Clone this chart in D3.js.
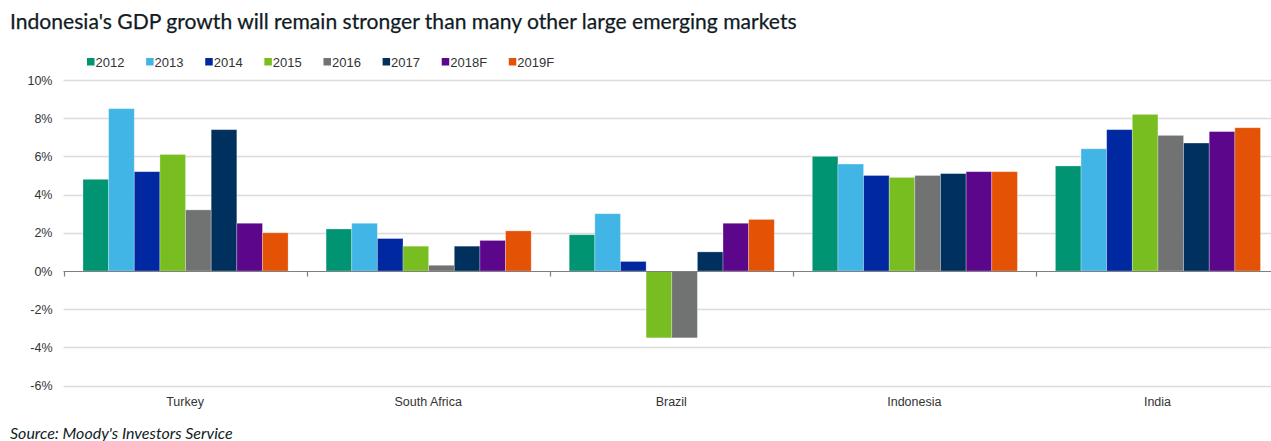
<!DOCTYPE html>
<html>
<head>
<meta charset="utf-8">
<script src="https://cdn.jsdelivr.net/npm/d3@7"></script>
<style>
  html, body { margin: 0; padding: 0; background: #fff; }
  svg { display: block; }
</style>
</head>
<body>
<svg id="chart" width="1271" height="441"></svg>
<script>
// Real GDP growth (%) by country and year; 2018F and 2019F are forecasts
const countries = ["Turkey", "South Africa", "Brazil", "Indonesia", "India"];
const years = ["2012", "2013", "2014", "2015", "2016", "2017", "2018F", "2019F"];
const yearColors = ["#009473", "#41b6e6", "#0028a0", "#78be20", "#707372", "#00305e", "#5c068c", "#e35205"];

const turkey      = [4.8, 8.5, 5.2, 6.1, 3.2, 7.4, 2.5, 2.0];
const southAfrica = [2.2, 2.5, 1.7, 1.3, 0.3, 1.3, 1.6, 2.1];
const brazil      = [1.9, 3.0, 0.5, -3.5, -3.5, 1.0, 2.5, 2.7];
const indonesia   = [6.0, 5.6, 5.0, 4.9, 5.0, 5.1, 5.2, 5.2];
const india       = [5.5, 6.4, 7.4, 8.2, 7.1, 6.7, 7.3, 7.5];

const yTicks = [-6, -4, -2, 0, 2, 4, 6, 8, 10];

const seriesByCountry = [turkey, southAfrica, brazil, indonesia, india];
const rows = countries.map((c, i) => ({
  country: c,
  values: years.map((y, j) => ({ year: y, value: seriesByCountry[i][j] }))
}));

const svg = d3.select("#chart");
const W = 1271;

const plot = { left: 63.5, right: 1279, top: 80, bottom: 385.6 };

const x0 = d3.scaleBand()
  .domain(countries)
  .range([plot.left, plot.right])
  .paddingInner(0).paddingOuter(0);

const x1 = d3.scaleBand()
  .domain(years)
  .range([19.5, x0.bandwidth() - 18.5])
  .padding(0);

const y = d3.scaleLinear().domain([-6, 10]).range([plot.bottom, plot.top]);

const color = d3.scaleOrdinal().domain(years).range(yearColors);

// Title
svg.append("text")
  .attr("x", 10).attr("y", 29)
  .attr("font-family", "Lato, 'Noto Sans', sans-serif")
  .attr("font-size", 21.1)
  .attr("fill", "#111b24")
  .attr("stroke", "#111b24").attr("stroke-width", 0.25)
  .text("Indonesia's GDP growth will remain stronger than many other large emerging markets");

// Legend
const legend = svg.append("g").attr("transform", "translate(87,0)");
let lx = 0;
years.forEach((yr) => {
  const g = legend.append("g").attr("transform", `translate(${lx},0)`);
  g.append("rect").attr("x", 0).attr("y", 58).attr("width", 7.5).attr("height", 7.5)
    .attr("fill", color(yr));
  const t = g.append("text").attr("x", 8.5).attr("y", 66.5)
    .attr("font-family", "'Liberation Sans', Arial, sans-serif")
    .attr("font-size", 13)
    .attr("fill", "#333")
    .text(yr);
  lx += 8.5 + t.node().getComputedTextLength() + 21.7;
});

// Gridlines
svg.append("g")
  .selectAll("line")
  .data(yTicks.filter(d => d !== 0))
  .join("line")
  .attr("x1", plot.left).attr("x2", W)
  .attr("y1", d => Math.round(y(d)) + 0.5).attr("y2", d => Math.round(y(d)) + 0.5)
  .attr("stroke", "#dcdcdc").attr("stroke-width", 1.5);

// Y axis labels
const yAxis = d3.axisLeft(y).tickValues(yTicks).tickSize(0).tickPadding(11)
  .tickFormat(d => d + "%");
const yG = svg.append("g").attr("transform", `translate(${plot.left},0)`).call(yAxis);
yG.select(".domain").remove();
yG.selectAll("text")
  .attr("font-family", "'Liberation Sans', Arial, sans-serif")
  .attr("font-size", 12.5)
  .attr("fill", "#333");

// Bars
const groups = svg.append("g")
  .selectAll("g")
  .data(rows)
  .join("g")
  .attr("transform", d => `translate(${x0(d.country)},0)`);

groups.selectAll("rect")
  .data(d => d.values)
  .join("rect")
  .attr("x", d => x1(d.year))
  .attr("width", x1.bandwidth())
  .attr("y", d => y(Math.max(0, d.value)))
  .attr("height", d => Math.abs(y(d.value) - y(0)))
  .attr("fill", d => color(d.year))
  .attr("stroke", "#ffffff")
  .attr("stroke-opacity", 0.35)
  .attr("stroke-width", 0.8);

// Zero baseline with category ticks
const zeroY = Math.round(y(0)) + 0.5;
svg.append("line")
  .attr("x1", plot.left).attr("x2", W)
  .attr("y1", zeroY).attr("y2", zeroY)
  .attr("stroke", "#7f7f7f").attr("stroke-width", 1.2);

const boundaries = countries.map(c => x0(c));
svg.append("g").selectAll("line")
  .data(boundaries)
  .join("line")
  .attr("x1", d => Math.round(d) + 0.5).attr("x2", d => Math.round(d) + 0.5)
  .attr("y1", zeroY).attr("y2", zeroY + 5)
  .attr("stroke", "#7f7f7f").attr("stroke-width", 1.2);

// Category labels under the plot
const xAxis = d3.axisBottom(x0).tickSize(0).tickPadding(0);
const xG = svg.append("g").attr("transform", `translate(0,${plot.bottom + 11.5})`).call(xAxis);
xG.select(".domain").remove();
xG.selectAll("text")
  .attr("font-family", "'Liberation Sans', Arial, sans-serif")
  .attr("font-size", 12.5)
  .attr("fill", "#333");

// Source note
svg.append("text")
  .attr("x", 10).attr("y", 439)
  .attr("font-family", "Lato, 'Noto Sans', sans-serif")
  .attr("font-style", "italic")
  .attr("font-size", 16)
  .attr("fill", "#111b24")
  .text("Source: Moody's Investors Service");
</script>
</body>
</html>
